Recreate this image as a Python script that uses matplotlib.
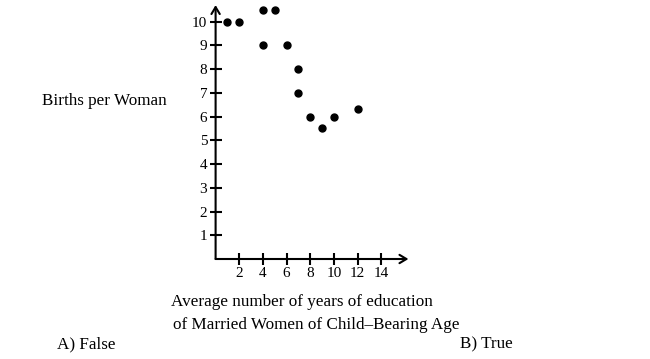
import matplotlib.pyplot as plt

years = [1, 2, 4, 5, 4, 6, 7, 7, 8, 9, 10, 12]
births = [10, 10, 10.5, 10.5, 9, 9, 8, 7, 6, 5.5, 6, 6.3]
xticks = [2, 4, 6, 8, 10, 12, 14]
yticks = [1, 2, 3, 4, 5, 6, 7, 8, 9, 10]

plt.rcParams['font.family'] = 'Liberation Serif'

W, H = 650, 359
fig = plt.figure(figsize=(W / 100, H / 100), dpi=100)

# axes placed so that the origin sits at pixel (215.6, 259)
ax = fig.add_axes([215.6 / W, 100 / H, 195.2 / W, 256.3 / H])
ax.set_xlim(0, 16.5)
ax.set_ylim(0, 10.8)
for s in ax.spines.values():
    s.set_visible(False)

ax.plot(years, births, 'o', color='black', markersize=5, clip_on=False)

arrow = dict(arrowstyle='->,head_length=0.5,head_width=0.3', lw=1.5,
             color='black', shrinkA=0, shrinkB=0)
ax.annotate('', xy=(16.3, 0), xytext=(0, 0), arrowprops=arrow)
ax.annotate('', xy=(0, 10.7), xytext=(0, 0), arrowprops=arrow)

ax.set_xticks(xticks)
ax.set_yticks(yticks)
ax.tick_params(direction='inout', length=8, width=1.5, labelsize=11, pad=2)

fs = 12.3
fig.text(104 / W, 1 - 101 / H, 'Births per Woman', ha='center', va='center', fontsize=fs)
fig.text(171 / W, 1 - 302 / H, 'Average number of years of education',
         ha='left', va='center', fontsize=fs)
fig.text(173 / W, 1 - 325 / H, 'of Married Women of Child\u2013Bearing Age',
         ha='left', va='center', fontsize=fs)
fig.text(57 / W, 1 - 344 / H, 'A) False', ha='left', va='center', fontsize=fs)
fig.text(460 / W, 1 - 344 / H, 'B) True', ha='left', va='center', fontsize=fs)

fig.savefig('out.png', dpi=100)
